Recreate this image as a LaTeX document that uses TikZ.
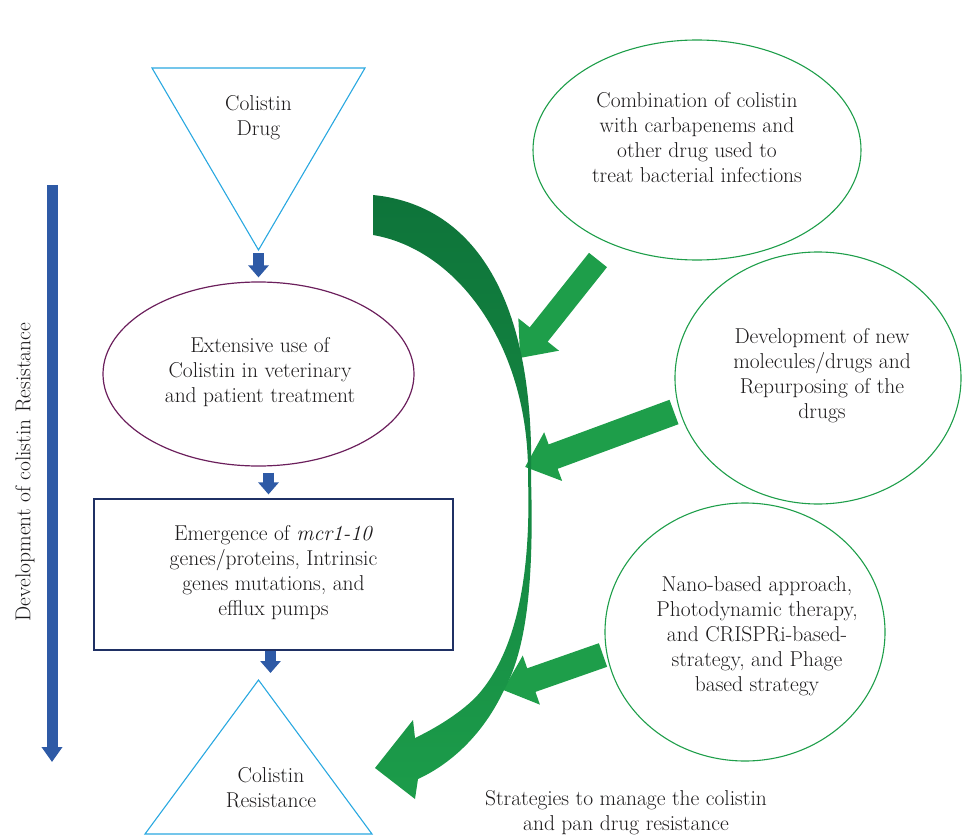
\documentclass[tikz,border=0pt]{standalone}
\usepackage{fontspec}
\usetikzlibrary{arrows.meta,shapes.geometric}
\definecolor{triblue}{RGB}{41,168,224}
\definecolor{usepurple}{RGB}{107,31,92}
\definecolor{boxnavy}{RGB}{31,48,100}
\definecolor{stratgreen}{RGB}{30,158,74}
\definecolor{arcdark}{RGB}{14,116,58}
\definecolor{arclight}{RGB}{28,156,74}
\definecolor{flowblue}{RGB}{46,90,166}
\definecolor{inkgray}{RGB}{28,26,27}

\begin{document}
\begin{tikzpicture}[x=1pt,y=-1pt]
        \tikzstyle{txt}=[align=center, inner sep=0pt, text=inkgray, font=\fontsize{21.5}{25}\selectfont]
        \tikzstyle{drug tri}=[draw=triblue, line width=1.1pt]
        \tikzstyle{use ell}=[ellipse, draw=usepurple, line width=1.2pt, inner sep=0pt]
        \tikzstyle{strat ell}=[ellipse, draw=stratgreen, line width=1.1pt, inner sep=0pt]
        \tikzstyle{gene box}=[rectangle, draw=boxnavy, line width=1.2pt, inner sep=0pt]
        \tikzstyle{flow arrow}=[draw=flowblue, line width=11pt, -{Triangle[width=20pt,length=12pt]}]
        \tikzstyle{strat arrow}=[draw=stratgreen, -{Triangle[width=50pt,length=30pt]}]

        \useasboundingbox (0,0) rectangle (963,837);

        % Colistin drug
        \coordinate (drug apex) at (258.5,250);
        \draw[drug tri] (152,68) -- (365,68) -- (drug apex) -- cycle;
        \node[txt] (drug) at (258.5,118) {Colistin\\Drug};

        % Extensive use
        \node[use ell, minimum width=311pt, minimum height=184pt] (use) at (258.5,374) {};
        \node[txt] (use text) at (260,372) {Extensive use of\\Colistin in veterinary\\and patient treatment};

        % Emergence of genes
        \node[gene box, minimum width=359pt, minimum height=151pt] (gene) at (273.5,574.5) {};
        \node[txt] (gene text) at (273.5,573) {Emergence of \textit{mcr1-10}\\genes/proteins, Intrinsic\\genes mutations, and\\efflux pumps};

        % Colistin resistance
        \coordinate (res apex) at (258.5,680);
        \draw[drug tri] (res apex) -- (372,834) -- (145,834) -- cycle;
        \node[txt] (res) at (271,788) {Colistin\\Resistance};

        % Development arrows
        \draw[flow arrow, shorten <=3pt, shorten >=4pt] (drug apex) -- (use.north);
        \draw[flow arrow, shorten <=6pt, shorten >=4pt] ([xshift=-5pt]gene.north |- use.south) -- ([xshift=-5pt]gene.north);
        \draw[flow arrow, shorten >=7pt] ([xshift=-3pt]gene.south) -- ([xshift=-3pt]gene.south |- res apex);

        \coordinate (time top) at (52,185);
        \coordinate (time end) at (52,762);
        \draw[draw=flowblue, line width=11pt, -{Triangle[width=20pt,length=15pt]}] (time top) -- (time end);
        \node[txt, rotate=90] (time label) at (25,472) {Development of colistin Resistance};

        % Strategies
        \node[strat ell, minimum width=328pt, minimum height=220pt] (comb) at (697,150) {};
        \node[txt] (comb text) at (697,138) {Combination of colistin\\with carbapenems and\\other drug used to\\treat bacterial infections};

        \node[strat ell, minimum width=286pt, minimum height=252pt] (dev) at (818,378) {};
        \node[txt] (dev text) at (822,376) {Development of new\\molecules/drugs and\\Repurposing of the\\drugs};

        \node[strat ell, minimum width=280pt, minimum height=258pt] (nano) at (745,632) {};
        \node[txt] (nano text) at (757,636) {Nano-based approach,\\Photodynamic therapy,\\and CRISPRi-based-\\strategy, and Phage\\based strategy};

        \node[txt] (strat label) at (626,813) {Strategies to manage the colistin\\and pan drug resistance};

        % Arrows into the curve
        \coordinate (s1) at (598,260);
        \coordinate (t1) at (520,358);
        \coordinate (s2) at (674,412);
        \coordinate (t2) at (525,467);
        \coordinate (s3) at (603,655);
        \coordinate (t3) at (503,690);
        \draw[strat arrow, line width=23pt] (s1) -- (t1);
        \draw[strat arrow, line width=26pt] (s2) -- (t2);
        \draw[strat arrow, line width=25pt] (s3) -- (t3);

        % Curved arrow
        \shade[top color=arcdark, bottom color=arclight]
            (373,195) .. controls (475,205) and (535,300) .. (531,478)
            .. controls (534,580) and (527,650) .. (503,692)
            .. controls (485,730) and (455,762) .. (418,779)
            -- (415,799) -- (375,768) -- (413,720) -- (415,738)
            .. controls (440,726) and (468,708) .. (482,690)
            .. controls (518,645) and (531,570) .. (528,478)
            .. controls (530,350) and (460,250) .. (373,235) -- cycle;

\end{tikzpicture}
\end{document}
